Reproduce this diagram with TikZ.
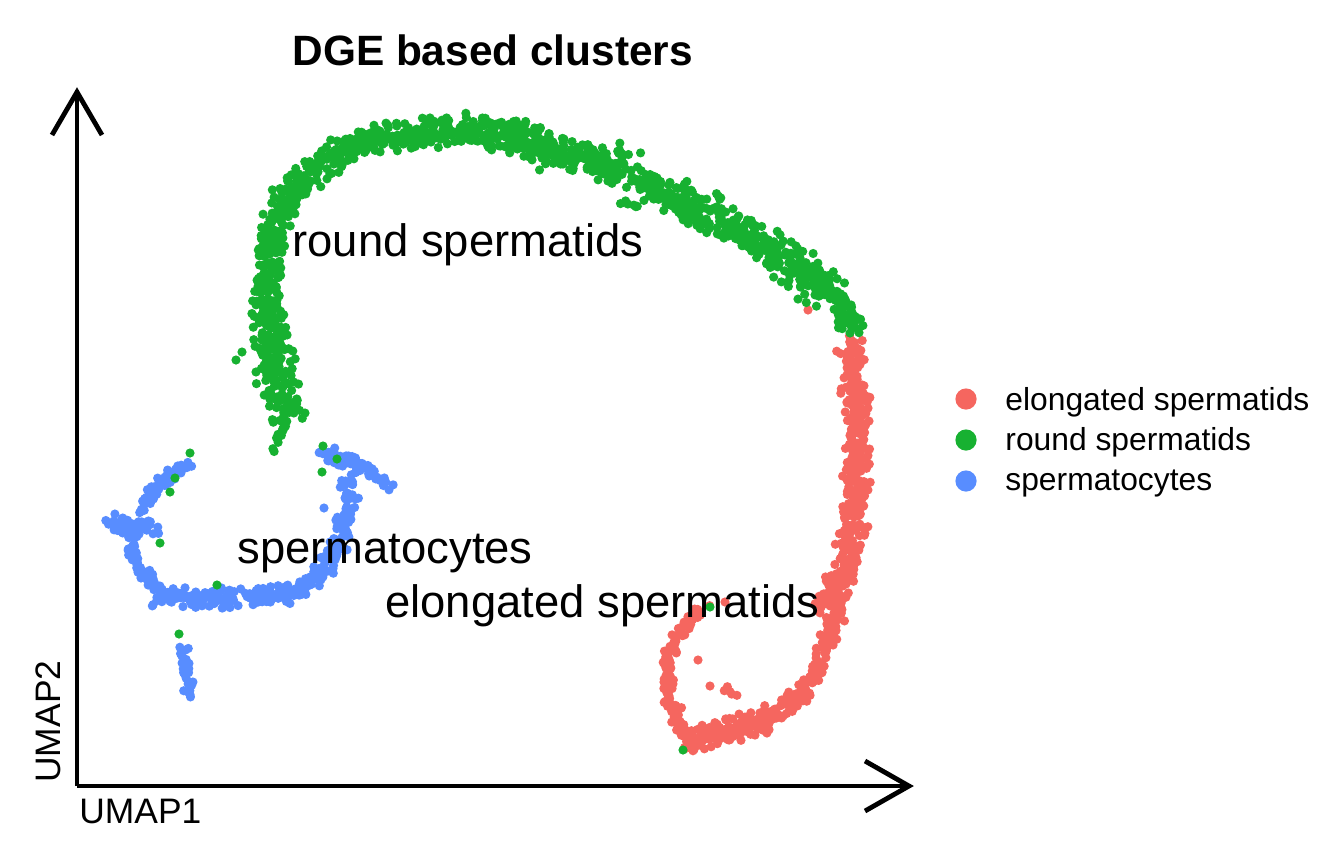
\documentclass[tikz,border=0pt]{standalone}
\usepackage{fontspec}
\setmainfont{Liberation Sans}
\definecolor{cRed}{HTML}{F5665F}
\definecolor{cGreen}{HTML}{17B131}
\definecolor{cBlue}{HTML}{588DFF}
\newcommand{\dotseg}[7]{%
  \pgfmathtruncatemacro{\dsN}{#6*2.2}%
  \foreach \k in {1,...,\dsN}{%
    \pgfmathsetmacro{\dsT}{rnd}%
    \pgfmathsetmacro{\dsX}{#2+(#4-#2)*\dsT+1.35*#7*(rand+rand)/2}%
    \pgfmathsetmacro{\dsY}{#3+(#5-#3)*\dsT+1.35*#7*(rand+rand)/2}%
    \fill[#1] (\dsX,\dsY) circle[radius=2.3pt];%
  }}
\newcommand{\onedot}[3]{\fill[#1] (#2,#3) circle[radius=2.3pt];}
\tikzset{
  axisline/.style={line width=2.4pt, line cap=butt, line join=miter},
  clabel/.style={anchor=base west, inner sep=0pt, font=\fontsize{22.7}{27}\selectfont},
  leglabel/.style={anchor=base west, inner sep=0pt, font=\fontsize{15.9}{19}\selectfont},
  axlabel/.style={anchor=base west, inner sep=0pt, font=\fontsize{17.7}{21}\selectfont},
  ttl/.style={anchor=base west, inner sep=0pt, font=\fontsize{21.2}{25}\selectfont\bfseries},
}
\begin{document}
\begin{tikzpicture}[x=0.5pt,y=-0.5pt]
\useasboundingbox (0,0) rectangle (1344,864);
\pgfmathsetseed{4242}
% ---------- blue: spermatocytes ----------
\dotseg{cBlue}{188}{463}{155}{488}{20}{5}
\dotseg{cBlue}{155}{488}{140}{512}{12}{5}
\dotseg{cBlue}{112}{525}{155}{528}{28}{9}
\dotseg{cBlue}{130}{545}{140}{570}{12}{5}
\dotseg{cBlue}{140}{570}{165}{592}{15}{6}
\dotseg{cBlue}{160}{596}{235}{598}{45}{9}
\dotseg{cBlue}{247}{597}{300}{592}{35}{8}
\dotseg{cBlue}{300}{592}{325}{567}{18}{7}
\dotseg{cBlue}{325}{567}{342}{535}{18}{8}
\dotseg{cBlue}{342}{535}{350}{500}{15}{8}
\dotseg{cBlue}{350}{500}{345}{478}{10}{6}
\dotseg{cBlue}{322}{452}{360}{465}{22}{8}
\dotseg{cBlue}{360}{465}{390}{485}{12}{5}
\dotseg{cBlue}{183}{648}{190}{698}{15}{4}
\onedot{cBlue}{324}{508}
% ---------- red: elongated spermatids ----------
\dotseg{cRed}{852}{345}{857}{400}{35}{12}
\dotseg{cRed}{857}{400}{857}{460}{40}{11}
\dotseg{cRed}{857}{460}{853}{530}{45}{11}
\dotseg{cRed}{853}{530}{840}{580}{30}{12}
\dotseg{cRed}{840}{575}{830}{610}{30}{14}
\dotseg{cRed}{833}{615}{822}{660}{20}{7}
\dotseg{cRed}{822}{660}{800}{700}{20}{7}
\dotseg{cRed}{800}{700}{760}{722}{25}{10}
\dotseg{cRed}{760}{722}{715}{733}{35}{13}
\dotseg{cRed}{715}{733}{690}{740}{20}{11}
\dotseg{cRed}{690}{740}{668}{700}{20}{7}
\dotseg{cRed}{668}{700}{668}{660}{18}{5}
\dotseg{cRed}{668}{660}{682}{628}{15}{5}
\dotseg{cRed}{682}{628}{705}{607}{12}{4}
\dotseg{cRed}{725}{690}{747}{697}{3}{3}
\onedot{cRed}{698}{660}
\onedot{cRed}{710}{686}
\onedot{cRed}{725}{602}
\onedot{cRed}{808}{310}
% ---------- green: round spermatids ----------
\dotseg{cGreen}{273}{452}{287}{420}{8}{3}
\dotseg{cGreen}{287}{410}{273}{360}{40}{16}
\dotseg{cGreen}{273}{360}{268}{300}{45}{15}
\dotseg{cGreen}{268}{300}{270}{250}{35}{12}
\dotseg{cGreen}{270}{250}{280}{210}{30}{12}
\dotseg{cGreen}{280}{210}{300}{180}{25}{12}
\dotseg{cGreen}{300}{180}{335}{155}{25}{12}
\dotseg{cGreen}{335}{155}{370}{140}{30}{12}
\dotseg{cGreen}{370}{140}{420}{134}{35}{13}
\dotseg{cGreen}{420}{134}{470}{130}{35}{13}
\dotseg{cGreen}{470}{130}{520}{140}{40}{14}
\dotseg{cGreen}{520}{140}{570}{154}{45}{16}
\dotseg{cGreen}{570}{154}{628}{168}{45}{16}
\dotseg{cGreen}{642}{182}{680}{200}{35}{15}
\dotseg{cGreen}{680}{200}{720}{220}{30}{15}
\dotseg{cGreen}{720}{220}{765}{245}{35}{15}
\dotseg{cGreen}{765}{245}{800}{270}{30}{14}
\dotseg{cGreen}{800}{270}{835}{295}{30}{14}
\dotseg{cGreen}{835}{295}{855}{330}{25}{10}
\dotseg{cGreen}{775}{275}{810}{305}{3}{4}
\dotseg{cGreen}{618}{202}{642}{208}{3}{3}
\onedot{cGreen}{236}{360}
\onedot{cGreen}{242}{352}
\onedot{cGreen}{305}{413}
\onedot{cGreen}{190}{453}
\onedot{cGreen}{175}{478}
\onedot{cGreen}{170}{492}
\onedot{cGreen}{160}{543}
\onedot{cGreen}{217}{585}
\onedot{cGreen}{179}{634}
\onedot{cGreen}{323}{446}
\onedot{cGreen}{322}{472}
\onedot{cGreen}{337}{459}
\onedot{cGreen}{850}{333}
\onedot{cGreen}{710}{607}
\onedot{cGreen}{683}{750}
% ---------- axes ----------
\coordinate (org) at (77,786);
\coordinate (ytip) at (77,92);
\coordinate (xtip) at (909,786);
\draw[axisline] (org) -- (ytip);
\draw[axisline] (org) -- (xtip);
\draw[axisline] (52,135) -- (ytip) -- (102,135);
\draw[axisline] (865,761) -- (xtip) -- (865,811);
\node[axlabel] (xlab) at (79,823) {UMAP1};
\node[axlabel, rotate=90] (ylab) at (60,783) {UMAP2};
% ---------- title ----------
\node[ttl] (title) at (292,65) {DGE based clusters};
% ---------- cluster labels ----------
\node[clabel] (lround) at (292,256) {round spermatids};
\node[clabel] (lcyte) at (237,563) {spermatocytes};
\node[clabel] (lelong) at (385,617) {elongated spermatids};
% ---------- legend ----------
\fill[cRed] (966,399) circle[radius=5.3pt];
\fill[cGreen] (966,440) circle[radius=5.3pt];
\fill[cBlue] (966,481) circle[radius=5.3pt];
\node[leglabel] (lg1) at (1005,410) {elongated spermatids};
\node[leglabel] (lg2) at (1005,450) {round spermatids};
\node[leglabel] (lg3) at (1005,490) {spermatocytes};
\end{tikzpicture}
\end{document}
